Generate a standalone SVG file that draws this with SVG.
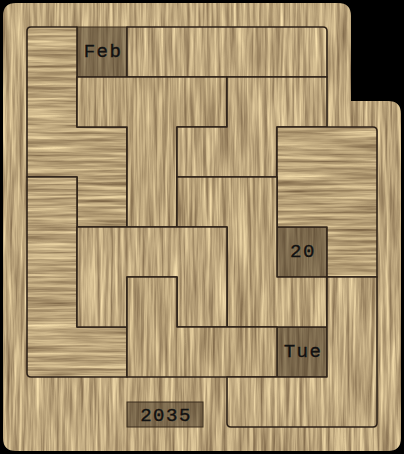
<svg xmlns="http://www.w3.org/2000/svg" width="404" height="454" viewBox="0 0 404 454">
<defs>
<filter id="wb" x="0" y="0" width="1" height="1" color-interpolation-filters="sRGB">
<feTurbulence type="fractalNoise" baseFrequency="0.3 0.012" numOctaves="4" seed="11"/>
<feColorMatrix type="matrix" values="0.6 0 0 0 0.44  0.6 0 0 0 0.35  0.5 0 0 0 0.24  0 0 0 0 1"/>
<feComposite in2="SourceAlpha" operator="in"/>
</filter>
<filter id="wv1" x="0" y="0" width="1" height="1" color-interpolation-filters="sRGB">
<feTurbulence type="fractalNoise" baseFrequency="0.28 0.012" numOctaves="4" seed="3"/>
<feColorMatrix type="matrix" values="0.6 0 0 0 0.445  0.6 0 0 0 0.355  0.5 0 0 0 0.245  0 0 0 0 1"/>
<feComposite in2="SourceAlpha" operator="in"/>
</filter>
<filter id="wv2" x="0" y="0" width="1" height="1" color-interpolation-filters="sRGB">
<feTurbulence type="fractalNoise" baseFrequency="0.32 0.011" numOctaves="4" seed="7"/>
<feColorMatrix type="matrix" values="0.6 0 0 0 0.43  0.6 0 0 0 0.34  0.5 0 0 0 0.23  0 0 0 0 1"/>
<feComposite in2="SourceAlpha" operator="in"/>
</filter>
<filter id="wh1" x="0" y="0" width="1" height="1" color-interpolation-filters="sRGB">
<feTurbulence type="fractalNoise" baseFrequency="0.012 0.28" numOctaves="4" seed="5"/>
<feColorMatrix type="matrix" values="0.6 0 0 0 0.42  0.6 0 0 0 0.33  0.5 0 0 0 0.22  0 0 0 0 1"/>
<feComposite in2="SourceAlpha" operator="in"/>
</filter>
<filter id="wh2" x="0" y="0" width="1" height="1" color-interpolation-filters="sRGB">
<feTurbulence type="fractalNoise" baseFrequency="0.011 0.32" numOctaves="4" seed="9"/>
<feColorMatrix type="matrix" values="0.6 0 0 0 0.43  0.6 0 0 0 0.34  0.5 0 0 0 0.23  0 0 0 0 1"/>
<feComposite in2="SourceAlpha" operator="in"/>
</filter>
</defs>
<style>
.board{fill:#b8a07a;filter:url(#wb)}
.v1{fill:#b8a07a;filter:url(#wv1)}
.v2{fill:#b8a07a;filter:url(#wv2)}
.h1{fill:#b8a07a;filter:url(#wh1)}
.h2{fill:#b8a07a;filter:url(#wh2)}
.edge{fill:none;stroke:#2e2218;stroke-width:1.6;stroke-linejoin:round}
.hole{fill:#3c2e1e;fill-opacity:0.5;stroke:#3a2c1c;stroke-width:1}
.lbl{font-family:"Liberation Mono","DejaVu Sans Mono",monospace;font-size:19px;fill:#111;stroke:#111;stroke-width:0.35;text-anchor:middle;letter-spacing:1.5px}
</style>
<rect width="404" height="454" fill="#000"/>
<g id="board">
<path class="board" d="M16,3 H338 Q351,3 351,16 V101 H388 Q401,101 401,114 V438 Q401,451 388,451 H16 Q3,451 3,438 V16 Q3,3 16,3 Z"/>
</g>
<g id="cell-feb">
<rect class="hole" x="77" y="27" width="50" height="50"/>
<text class="lbl" x="103" y="57">Feb</text>
</g>
<g id="cell-20">
<rect class="hole" x="277" y="227" width="50" height="50"/>
<text class="lbl" x="303" y="257">20</text>
</g>
<g id="cell-tue">
<rect class="hole" x="277" y="327" width="50" height="50"/>
<text class="lbl" x="303" y="357">Tue</text>
</g>
<g id="year">
<rect class="hole" x="127" y="402" width="76" height="25" fill-opacity="0.45"/>
<text class="lbl" x="166" y="421">2035</text>
</g>
<g id="piece-1">
<path class="h1" d="M27,31 Q27,27 31,27 H77 V127 H127 V227 H77 V177 H27 Z"/>
<path class="edge" d="M27,31 Q27,27 31,27 H77 V127 H127 V227 H77 V177 H27 Z"/>
</g>
<g id="piece-2">
<path class="h2" d="M27,177 H77 V327 H127 V377 H31 Q27,377 27,373 Z"/>
<path class="edge" d="M27,177 H77 V327 H127 V377 H31 Q27,377 27,373 Z"/>
</g>
<g id="piece-3">
<path class="v1" d="M127,27 H323 Q327,27 327,31 V77 H127 Z"/>
<path class="edge" d="M127,27 H323 Q327,27 327,31 V77 H127 Z"/>
</g>
<g id="piece-4">
<path class="v2" d="M77,77 H227 V127 H177 V227 H127 V127 H77 Z"/>
<path class="edge" d="M77,77 H227 V127 H177 V227 H127 V127 H77 Z"/>
</g>
<g id="piece-5">
<path class="v1" d="M227,77 H327 V127 H277 V177 H177 V127 H227 Z"/>
<path class="edge" d="M227,77 H327 V127 H277 V177 H177 V127 H227 Z"/>
</g>
<g id="piece-6">
<path class="h1" d="M277,127 H373 Q377,127 377,131 V277 H327 V227 H277 Z"/>
<path class="edge" d="M277,127 H373 Q377,127 377,131 V277 H327 V227 H277 Z"/>
</g>
<g id="piece-7">
<path class="v2" d="M177,177 H277 V277 H327 V327 H227 V227 H177 Z"/>
<path class="edge" d="M177,177 H277 V277 H327 V327 H227 V227 H177 Z"/>
</g>
<g id="piece-8">
<path class="v1" d="M77,227 H227 V327 H177 V277 H127 V327 H77 Z"/>
<path class="edge" d="M77,227 H227 V327 H177 V277 H127 V327 H77 Z"/>
</g>
<g id="piece-9">
<path class="v2" d="M127,277 H177 V327 H277 V377 H127 Z"/>
<path class="edge" d="M127,277 H177 V327 H277 V377 H127 Z"/>
</g>
<g id="piece-10">
<path class="v1" d="M327,277 H377 V423 Q377,427 373,427 H231 Q227,427 227,423 V377 H327 Z"/>
<path class="edge" d="M327,277 H377 V423 Q377,427 373,427 H231 Q227,427 227,423 V377 H327 Z"/>
</g>
<g id="connectors"></g>
</svg>
